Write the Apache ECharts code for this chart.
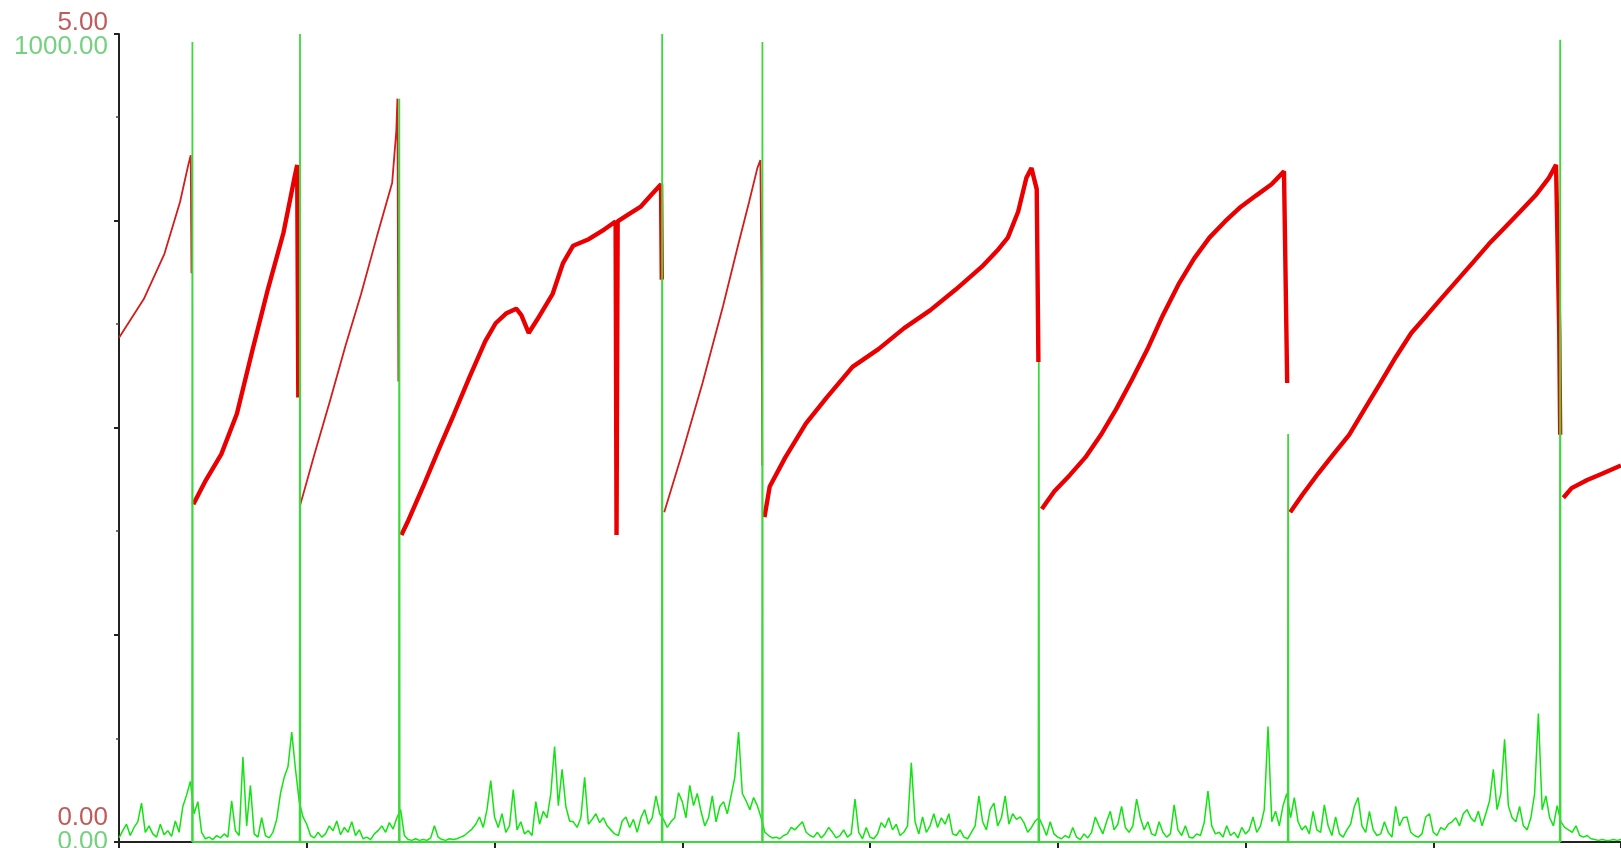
<!DOCTYPE html>
<html>
<head>
<meta charset="utf-8">
<script src="https://cdn.jsdelivr.net/npm/echarts@6/dist/echarts.min.js"></script>
<style>
  html, body { margin: 0; padding: 0; background: #fff; }
  #chart { width: 1621px; height: 848px; }
</style>
</head>
<body>
<div id="chart"></div>
<script>
// red trace (left scale 0..5), one array per ramp between resets
var redSeg1 = [[0,3.12],[13.2,3.36],[24.2,3.64],[32.5,3.96],[36.9,4.19],[38.2,4.25],[38.6,3.52]]
var redSeg2 = [[39.6,2.09],[46.3,2.24],[54.5,2.40],[62.8,2.65],[71.0,3.04],[79.3,3.42],[87.6,3.77],[93.1,4.09],[94.9,4.19],[95.5,2.75]]
var redSeg3 = [[96.4,2.08],[104.1,2.40],[112.4,2.73],[120.6,3.07],[128.9,3.39],[137.2,3.74],[145.5,4.08],[147.7,4.40],[148.3,4.60],[148.8,2.85]]
var redSeg4 = [[150.4,1.90],[153.7,1.98],[162.0,2.20],[170.3,2.43],[178.5,2.65],[186.8,2.88],[195.1,3.10],[200.6,3.21],[206.1,3.27],[211.6,3.30],[214.3,3.26],[218.2,3.15],[222.6,3.23],[230.9,3.39],[236.4,3.58],[241.9,3.69],[250.2,3.73],[258.4,3.79],[264.5,3.84],[265.0,1.90],[265.6,3.84],[272.2,3.89],[277.7,3.93],[283.2,4.00],[288.7,4.07],[289.1,3.48]]
var redSeg5 = [[290.4,2.04],[299.8,2.40],[310.8,2.84],[321.8,3.32],[330.1,3.71],[335.6,3.96],[340.0,4.17],[341.6,4.22],[342.2,3.48],[342.6,2.33]]
var redSeg6 = [[343.8,2.01],[346.6,2.20],[354.9,2.38],[365.9,2.59],[376.9,2.75],[390.7,2.94],[404.5,3.05],[418.2,3.18],[432.0,3.29],[445.8,3.42],[459.6,3.56],[467.8,3.66],[473.4,3.74],[478.9,3.90],[483.3,4.11],[486.0,4.17],[488.8,4.04],[489.7,2.97]]
var redSeg7 = [[491.5,2.06],[498.2,2.17],[506.4,2.27],[514.7,2.38],[523.0,2.52],[531.2,2.68],[539.5,2.86],[547.8,3.05],[556.0,3.26],[564.3,3.45],[572.6,3.61],[580.8,3.74],[589.1,3.84],[597.4,3.93],[605.6,4.00],[613.9,4.07],[620.5,4.15],[622.2,2.84]]
var redSeg8 = [[623.8,2.04],[630.4,2.15],[638.7,2.28],[646.9,2.40],[655.2,2.52],[663.5,2.68],[671.8,2.84],[680.0,3.00],[688.3,3.15],[696.6,3.26],[704.8,3.37],[713.1,3.48],[721.4,3.59],[729.6,3.70],[737.9,3.80],[746.2,3.90],[754.4,4.00],[761.6,4.11],[765.4,4.19],[767.1,3.16],[767.6,2.52]]
var redSeg9 = [[769.3,2.13],[773.7,2.19],[782.0,2.24],[790.2,2.28],[800,2.33]]

var thinSegs = [redSeg1, redSeg3, redSeg5]
var thickSegs = [redSeg2, redSeg4, redSeg6, redSeg7, redSeg8, redSeg9]

// green trace (right scale 0..1000), sampled every 2 x-units
var noiseStep = 2
var greenNoise = [
  5, 14, 22, 8, 18, 25, 48, 12, 20, 10,
  6, 22, 9, 14, 7, 26, 12, 44, 58, 75,
  35, 50, 12, 4, 6, 3, 8, 5, 10, 6,
  51, 14, 8, 105, 20, 70, 10, 6, 30, 8,
  5, 12, 28, 60, 80, 93, 136, 90, 50, 31,
  22, 8, 5, 12, 6, 10, 20, 14, 26, 9,
  18, 12, 25, 8, 15, 4, 6, 3, 10, 14,
  20, 12, 24, 16, 30, 40, 8, 3, 2, 4,
  2, 3, 2, 5, 20, 6, 3, 2, 4, 3,
  4, 6, 8, 12, 16, 22, 31, 18, 40, 76,
  31, 18, 35, 12, 20, 65, 15, 25, 10, 14,
  8, 50, 22, 38, 30, 60, 118, 45, 90, 44,
  26, 25, 18, 30, 80, 22, 28, 35, 24, 30,
  20, 15, 10, 8, 26, 31, 18, 28, 12, 30,
  40, 22, 30, 57, 35, 28, 18, 25, 30, 61,
  50, 30, 70, 45, 60, 38, 20, 30, 57, 25,
  44, 50, 35, 57, 80, 136, 60, 51, 40, 55,
  45, 30, 12, 8, 5, 6, 4, 8, 10, 18,
  15, 20, 25, 12, 8, 6, 12, 5, 10, 18,
  12, 5, 8, 15, 6, 10, 53, 12, 4, 18,
  6, 4, 10, 24, 18, 30, 15, 22, 8, 12,
  20, 98, 25, 10, 31, 12, 20, 35, 18, 30,
  22, 35, 10, 8, 15, 6, 4, 12, 20, 57,
  25, 15, 40, 48, 20, 30, 57, 22, 35, 28,
  31, 24, 12, 18, 26, 30, 20, 8, 25, 10,
  6, 4, 8, 5, 18, 6, 3, 10, 5, 12,
  31, 20, 10, 25, 38, 15, 22, 44, 18, 12,
  20, 53, 30, 15, 25, 10, 8, 25, 12, 6,
  10, 46, 15, 8, 20, 6, 5, 10, 8, 24,
  63, 20, 10, 12, 6, 20, 8, 12, 5, 18,
  10, 15, 31, 12, 20, 40, 143, 25, 38, 20,
  45, 60, 30, 55, 25, 15, 20, 10, 38, 15,
  12, 46, 20, 8, 31, 10, 6, 15, 22, 44,
  55, 20, 12, 38, 15, 8, 10, 25, 12, 6,
  44, 20, 30, 31, 12, 8, 6, 10, 31, 35,
  12, 8, 18, 15, 22, 25, 30, 20, 35, 40,
  30, 25, 38, 20, 35, 51, 90, 40, 60, 127,
  45, 30, 25, 44, 20, 15, 30, 60, 159, 40,
  57, 30, 20, 45, 25, 18, 15, 12, 20, 8,
  6, 8, 4, 3, 2, 3, 2, 2, 3, 2, 3
]
// the tall reset spikes
var greenPeaks = [
  [38.9,0],[39.1,990],[39.3,0],
  [96.2,0],[96.4,1000],[96.6,0],
  [149.1,0],[149.3,920],[149.5,0],
  [289.1,0],[289.3,1000],[289.5,0],
  [342.5,0],[342.7,990],[342.9,0],
  [489.7,0],[489.9,594],[490.1,0],
  [622.5,0],[622.7,505],[622.9,0],
  [767.4,0],[767.6,993],[767.8,0]
]

var redMax = 5
var greenMax = 1000

var chart = echarts.init(document.getElementById('chart'))

var series = []
thinSegs.forEach(function (seg) {
  series.push({
    type: 'line', yAxisIndex: 0, data: seg, showSymbol: false,
    lineStyle: { color: '#d41c1c', width: 1.8 }
  })
})
thickSegs.forEach(function (seg) {
  series.push({
    type: 'line', yAxisIndex: 0, data: seg, showSymbol: false,
    lineStyle: { color: '#ea0000', width: 4.4 }
  })
})
series.push({
  type: 'line', yAxisIndex: 1, showSymbol: false,
  data: greenNoise.map(function (v, i) { return [i * noiseStep, v] }),
  lineStyle: { color: '#12e412', width: 1.5 }
})
series.push({
  type: 'line', yAxisIndex: 1, showSymbol: false, data: greenPeaks,
  lineStyle: { color: '#3ed83e', width: 1.8 }
})

chart.setOption({
  animation: false,
  backgroundColor: '#fff',
  grid: { left: 119, right: 0, top: 34, bottom: 6, containLabel: false, outerBoundsMode: 'none' },
  xAxis: {
    type: 'value', min: 0, max: 800, interval: 100,
    axisLine: { show: true, onZero: false, lineStyle: { color: '#222', width: 2 } },
    axisTick: { show: true, length: 6, lineStyle: { color: '#222', width: 2 } },
    axisLabel: { show: false },
    splitLine: { show: false }
  },
  yAxis: [
    {
      type: 'value', min: 0, max: redMax, interval: redMax, position: 'left',
      axisLine: { show: false }, axisTick: { show: false }, splitLine: { show: false },
      axisLabel: {
        margin: 11,
        formatter: function (v) { return v === redMax ? '{t|' + v.toFixed(2) + '}' : '{b|' + v.toFixed(2) + '}' },
        rich: {
          t: { color: '#c25a5a', fontSize: 26, fontFamily: 'Liberation Sans', padding: [0, 0, 22, 0] },
          b: { color: '#c25a5a', fontSize: 26, fontFamily: 'Liberation Sans', padding: [0, 0, 48, 0] }
        }
      }
    },
    {
      type: 'value', min: 0, max: greenMax, interval: greenMax, position: 'left',
      axisLine: { show: false }, axisTick: { show: false }, splitLine: { show: false },
      axisLabel: {
        margin: 11,
        formatter: function (v) { return v === greenMax ? '{t|' + v.toFixed(2) + '}' : '{b|' + v.toFixed(2) + '}' },
        rich: {
          t: { color: '#74d27e', fontSize: 26, fontFamily: 'Liberation Sans', padding: [26, 0, 0, 0] },
          b: { color: '#74d27e', fontSize: 26, fontFamily: 'Liberation Sans' }
        }
      }
    },
    {
      // black left axis carrying the long/short tick marks
      type: 'value', min: 0, max: 7.8, interval: 2, position: 'left',
      axisLine: { show: true, onZero: false, lineStyle: { color: '#222', width: 2 } },
      axisTick: { show: true, length: 5, lineStyle: { color: '#222', width: 2 } },
      minorTick: { show: true, splitNumber: 2, length: 3, lineStyle: { color: '#444', width: 1.5 } },
      axisLabel: { show: false },
      splitLine: { show: false }
    }
  ],
  series: series
})
</script>
</body>
</html>
